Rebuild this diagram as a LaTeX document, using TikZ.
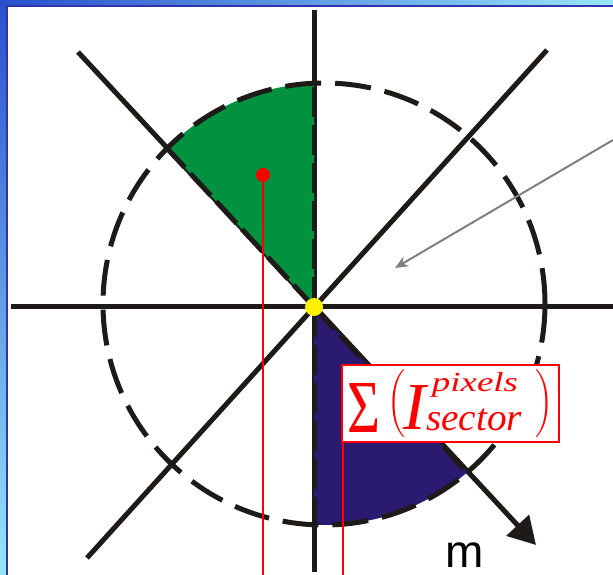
\documentclass[tikz,border=0pt]{standalone}
\usepackage{fontspec}
\newfontfamily\arialfont{Liberation Sans}
\newfontfamily\timesfont{Liberation Serif}
\usetikzlibrary{arrows.meta,calc}
\definecolor{lineblack}{RGB}{30,26,23}
\definecolor{sectgreen}{RGB}{0,146,63}
\definecolor{sectblue}{RGB}{42,26,112}
\definecolor{frameblue}{RGB}{50,50,170}
\definecolor{gradA}{RGB}{40,80,205}
\definecolor{gradB}{RGB}{150,230,250}
\tikzset{
  axisline/.style={line width=5pt, draw=lineblack},
  dashring/.style={line width=5pt, draw=lineblack, dash pattern=on 36pt off 14pt},
  sectedge/.style={line width=5pt, draw=lineblack, dash pattern=on 30pt off 8pt},
  redline/.style={draw=red, line width=1.6pt},
  pointer/.style={draw=gray, line width=2pt, -{Stealth[length=13pt,width=11pt]}},
  formpart/.style={red, inner sep=0pt, outer sep=0pt},
}
\begin{document}
\begin{tikzpicture}[x=1pt,y=1pt]
\useasboundingbox (0,0) rectangle (613,575);
\fill[white] (0,0) rectangle (613,575);
% frame
\shade[left color=gradA, right color=gradB] (0,570) rectangle (613,575);
\shade[top color=gradA, bottom color=gradB] (0,0) rectangle (6,575);
\draw[frameblue, line width=2pt] (7,0) -- (7,569) -- (613,569);
% key points
\coordinate (O) at (314,268);
\coordinate (C) at (324,271);
\coordinate (hL) at (11,268);
\coordinate (hR) at (613,268);
\coordinate (vT) at (314,565);
\coordinate (vB) at (314,3);
\coordinate (neA) at (547,525);
\coordinate (swA) at (87,17);
\coordinate (nwA) at (78,523);
\coordinate (seA) at (536,30);
% lines
\draw[axisline] (hL) -- (hR);
\draw[axisline] (vT) -- (vB);
\draw[axisline] (neA) -- (swA);
\draw[axisline, -{Triangle[length=27pt,width=30pt]}] (nwA) -- (seA);
% sectors
\begin{scope}
  \clip (C) circle (221);
  \fill[sectgreen] (O) -- ($(O)+(90:300)$) -- ($(O)+(132.8:300)$) -- cycle;
  \fill[sectblue] (O) -- ($(O)+(270:300)$) -- ($(O)+(-47.2:300)$) -- cycle;
  \draw[sectedge] (O) -- ($(O)+(90:300)$);
  \draw[sectedge] (O) -- ($(O)+(132.8:300)$);
  \draw[sectedge] (O) -- ($(O)+(270:300)$);
  \draw[sectedge] (O) -- ($(O)+(-47.2:300)$);
\end{scope}
% dashed circle
\draw[dashring] (C) circle (221);
% centre dot
\fill[yellow] (O) circle (9);
% red marks
\coordinate (rdot) at (263,400);
\coordinate (rbot) at (263,0);
\node[draw=red, line width=1.3pt, fill=white, minimum width=217pt, minimum height=77pt, inner sep=0pt] (box) at (450.5,171.5) {};
\node[formpart] (sig) at (363.5,167.5) {\resizebox{33pt}{49pt}{\timesfont Σ}};
\node[formpart] (lpar) at (396,171) {\resizebox*{!}{68pt}{$\Biggl($}};
\node[formpart] (bigI) at (415,168) {\resizebox{!}{44pt}{\timesfont\itshape I}};
\node[formpart] (sup) at (475,190) {\resizebox*{86pt}{25pt}{\timesfont\itshape pixels}};
\node[formpart] (sub) at (474,155) {\resizebox*{96pt}{22pt}{\timesfont\itshape sector}};
\node[formpart] (rpar) at (544.5,171) {\resizebox*{!}{68pt}{$\Biggr)$}};
\coordinate (bbot) at (343,133);
\coordinate (bbot2) at (343,0);
\draw[redline] (rdot) -- (rbot);
\draw[redline] (bbot) -- (bbot2);
\fill[red] (rdot) circle (7);
% gray pointer
\coordinate (pS) at (613,435);
\coordinate (pE) at (395,307);
\draw[pointer] (pS) -- (pE);
% label m
\node[anchor=base, inner sep=0pt, text depth=0pt, font=\arialfont\fontsize{46}{46}\selectfont] (mlab) at (465,7) {m};
\end{tikzpicture}
\end{document}
